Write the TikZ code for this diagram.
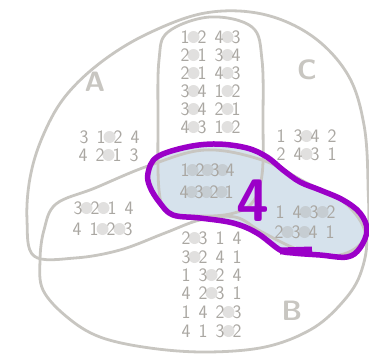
\documentclass[tikz,border=0pt]{standalone}
\usepackage{tikz}
\usetikzlibrary{calc}
\definecolor{pencil}{RGB}{200,198,193}
\definecolor{ink}{RGB}{170,167,162}
\definecolor{wash}{RGB}{214,226,236}
\definecolor{marker}{RGB}{155,0,200}
\newcommand{\permrow}[5][17]{%
  \foreach \d [count=\i from 0] in {#4}
    \node[digit] (#2-\i) at ($(#3)+({#1*\i},0)$) {\d};
  \foreach \g in {#5}
    \fill[dot] ($(#3)+({#1*\g-#1/2},0)$) circle (6pt);
}

\begin{document}
\begin{tikzpicture}[x=1pt,y=-1pt,
  pencil line/.style={draw=pencil,line width=2.8pt,line cap=round,line join=round},
  marker line/.style={draw=marker,line width=5.5pt,line cap=round,line join=round},
  digit/.style={text=ink,font=\sffamily\fontsize{19}{19}\selectfont,inner sep=0pt},
  dot/.style={fill=ink,opacity=.35},
  setlabel/.style={text=pencil,font=\sffamily\bfseries\fontsize{28}{28}\selectfont,inner sep=0pt}]
\useasboundingbox (0,0) rectangle (369,354);
\fill[wash] plot[smooth cycle,tension=.6] coordinates {(148,173) (157,157) (187,147) (217,144) (247,148) (267,157) (283,170) (300,182) (320,190) (343,200) (360,213) (367,230) (360,248) (347,257) (320,255) (293,253) (280,250) (257,233) (233,223) (200,218) (173,215) (160,203) (150,187)};
\draw[pencil line] plot[smooth cycle,tension=.6] coordinates {(34,256) (27,220) (30,178) (42,138) (64,98) (100,63) (147,34) (205,13) (262,14) (312,36) (348,75) (364,125) (368,185) (366,235) (340,255) (300,250) (262,232) (235,217) (200,220) (165,233) (120,250) (75,258)};
\draw[pencil line] plot[smooth cycle,tension=.6] coordinates {(43,290) (40,260) (44,230) (56,204) (95,188) (148,166) (205,150) (262,160) (305,182) (345,203) (366,235) (360,275) (340,305) (310,330) (265,347) (207,352) (150,348) (100,337) (67,317)};
\draw[pencil line] plot[smooth cycle,tension=.6] coordinates {(158,120) (159,60) (168,32) (210,17) (252,27) (262,60) (263,120) (262,175) (252,203) (230,214) (195,216) (168,212) (159,190)};
\node[setlabel] (labA) at (95,82) {A};
\node[setlabel] (labC) at (307,70) {C};
\node[setlabel] (labB) at (292,311) {B};
\permrow{t1}{185,37}{1,2,4,3}{1,3}
\permrow{t2}{185,55}{2,1,3,4}{1,3}
\permrow{t3}{185,73}{2,1,4,3}{1,3}
\permrow{t4}{185,91}{3,4,1,2}{1,3}
\permrow{t5}{185,109}{3,4,2,1}{1,3}
\permrow{t6}{185,127}{4,3,1,2}{1,3}
\permrow{a1}{84,137}{3,1,2,4}{2}
\permrow{a2}{83,155}{4,2,1,3}{2}
\permrow{c1}{281,136}{1,3,4,2}{2}
\permrow{c2}{281,154}{2,4,3,1}{2}
\permrow{l1}{78,208}{3,2,1,4}{1,2}
\permrow{l2}{77,229}{4,1,2,3}{2,3}
\permrow[15]{m1}{185,170}{1,2,3,4}{1,2,3}
\permrow[15]{m2}{184,192}{4,3,2,1}{1,2,3}
\permrow{r1}{280,212}{1,4,3,2}{2,3}
\permrow{r2}{279,232}{2,3,4,1}{1,2}
\permrow{b1}{186,238}{2,3,1,4}{1}
\permrow{b2}{186,257}{3,2,4,1}{1}
\permrow{b3}{186,275}{1,3,2,4}{2}
\permrow{b4}{186,293}{4,2,3,1}{2}
\permrow{b5}{186,312}{1,4,2,3}{3}
\permrow{b6}{186,331}{4,1,3,2}{3}
\draw[marker line] plot[smooth cycle,tension=.6] coordinates {(148,173) (157,157) (187,147) (217,144) (247,148) (267,157) (283,170) (300,182) (320,190) (343,200) (360,213) (367,230) (360,248) (347,257) (320,255) (293,253) (280,250) (257,233) (233,223) (200,218) (173,215) (160,203) (150,187)};
\draw[marker,line width=7pt] (280,251)--(312,250);
\node[text=marker,font=\sffamily\bfseries\fontsize{60}{60}\selectfont,inner sep=0pt] (four) at (253,201) {4};
\end{tikzpicture}
\end{document}
